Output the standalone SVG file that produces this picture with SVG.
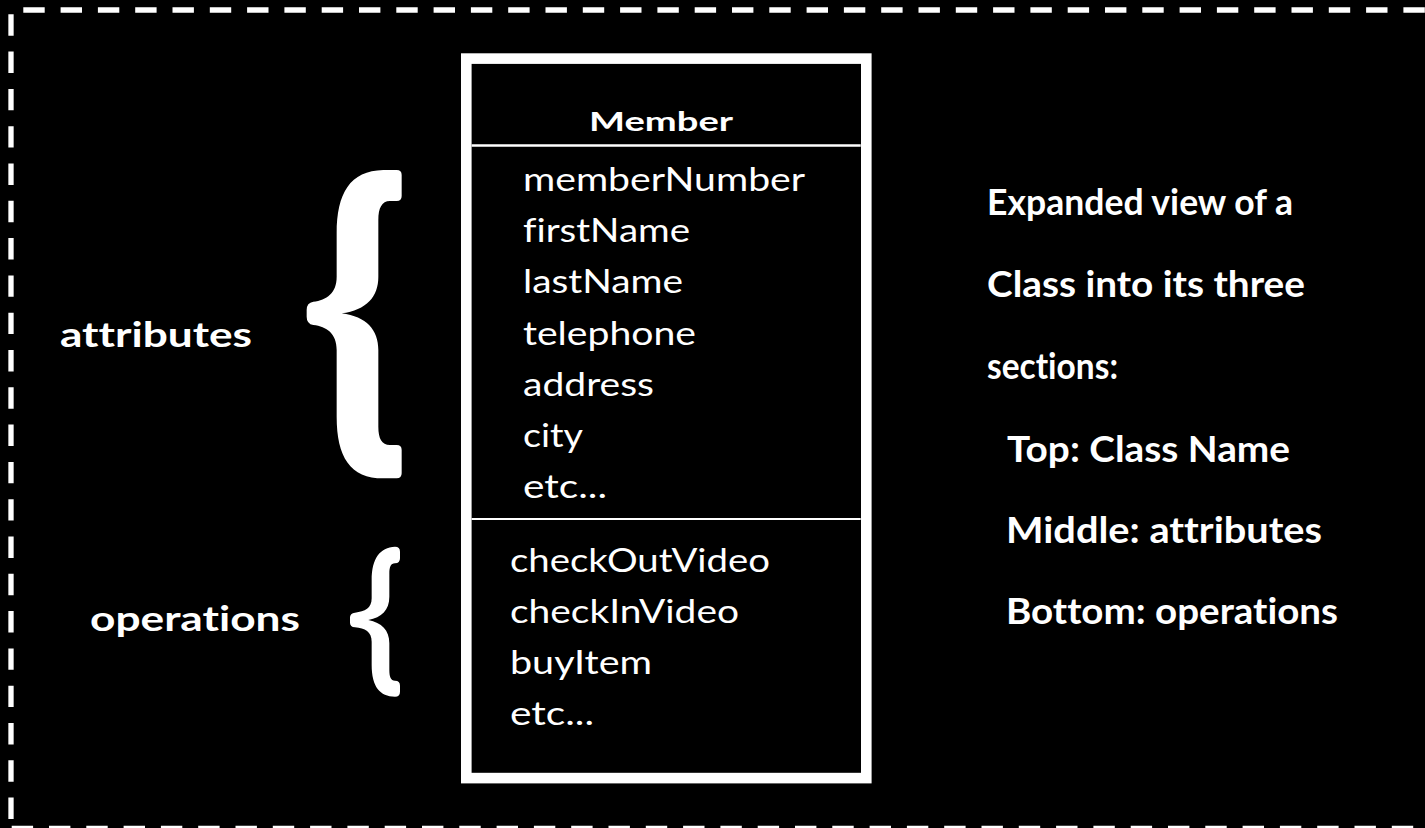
<svg xmlns="http://www.w3.org/2000/svg" width="1425" height="828" viewBox="0 0 1425 828">
  <style>
    .t { fill: #ffffff; font-family: Lato, "Liberation Sans", sans-serif; font-variant-ligatures: none; font-feature-settings: "liga" 0, "clig" 0; }
    .b { font-weight: 700; }
    .dash { stroke: #ffffff; stroke-width: 5.3; stroke-dasharray: 21.4 15.9; fill: none; }
    .brace { fill: #ffffff; }
  </style>
  <!-- background -->
  <rect x="0" y="0" width="1425" height="828" fill="#000000"/>

  <!-- dashed frame -->
  <g id="frame">
    <line class="dash" x1="23.3" y1="10" x2="1425" y2="10"/>
    <line class="dash" x1="11" y1="14.3" x2="11" y2="828"/>
    <line class="dash" x1="11.7" y1="828.3" x2="1425" y2="828.3"/>
  </g>

  <!-- class box: Member -->
  <g id="member-class">
    <rect x="466.3" y="58.6" width="400" height="719.5" fill="#000000" stroke="#ffffff" stroke-width="10.6"/>
    <line x1="471.6" y1="145.5" x2="860.7" y2="145.5" stroke="#ffffff" stroke-width="2.5"/>
    <line x1="471.6" y1="519" x2="860.7" y2="519" stroke="#ffffff" stroke-width="2.2"/>
    <text class="t b" x="589" y="131" font-size="26" textLength="144" lengthAdjust="spacingAndGlyphs">Member</text>
    <g id="member-attributes" font-size="32">
      <text class="t" x="523" y="191" textLength="282" lengthAdjust="spacingAndGlyphs">memberNumber</text>
      <text class="t" x="523" y="242" textLength="167" lengthAdjust="spacingAndGlyphs">firstName</text>
      <text class="t" x="523" y="293" textLength="160" lengthAdjust="spacingAndGlyphs">lastName</text>
      <text class="t" x="523" y="345" textLength="173" lengthAdjust="spacingAndGlyphs">telephone</text>
      <text class="t" x="523" y="396" textLength="131" lengthAdjust="spacingAndGlyphs">address</text>
      <text class="t" x="523" y="447" textLength="60" lengthAdjust="spacingAndGlyphs">city</text>
      <text class="t" x="523" y="498" textLength="84" lengthAdjust="spacingAndGlyphs">etc...</text>
    </g>
    <g id="member-operations" font-size="32">
      <text class="t" x="510" y="572" textLength="260" lengthAdjust="spacingAndGlyphs">checkOutVideo</text>
      <text class="t" x="510" y="623" textLength="229" lengthAdjust="spacingAndGlyphs">checkInVideo</text>
      <text class="t" x="510" y="674" textLength="142" lengthAdjust="spacingAndGlyphs">buyItem</text>
      <text class="t" x="510" y="725" textLength="84" lengthAdjust="spacingAndGlyphs">etc...</text>
    </g>
  </g>

  <!-- section labels -->
  <g id="label-attributes">
    <text class="t b" x="60" y="346.7" font-size="34" textLength="192" lengthAdjust="spacingAndGlyphs">attributes</text>
  </g>
  <g id="label-operations">
    <text class="t b" x="90" y="631" font-size="34" textLength="210" lengthAdjust="spacingAndGlyphs">operations</text>
  </g>

  <!-- braces tying labels to box sections -->
  <g id="connectors">
    <path class="brace" transform="translate(300,150) scale(0.33333)"
      d="M 110 250 C 110 130 150 62 250 60 L 290 60 Q 305 60 305 75 L 305 138 Q 305 153 290 153 L 270 153
         C 245 153 235 175 235 210 L 235 380 C 235 440 200 480 125 490 C 200 500 235 540 235 600 L 235 830
         C 235 865 245 885 270 885 L 290 885 Q 305 885 305 900 L 305 970 Q 305 985 290 985 L 250 985
         C 150 985 110 920 110 800 L 110 600 C 110 550 80 530 40 525 Q 20 522 20 500 L 20 480
         Q 20 458 40 455 C 80 450 110 430 110 380 Z"/>
    <path class="brace" transform="translate(340,530) scale(0.33333)"
      d="M 95 150 C 95 85 120 52 165 50 Q 180 50 180 65 L 180 85 Q 180 100 165 100
         C 152 100 148 112 148 130 L 148 200 C 148 240 125 262 85 270 C 125 278 148 300 148 340 L 148 420
         C 148 440 152 452 165 452 Q 180 452 180 467 L 180 485 Q 180 500 165 500
         C 120 500 95 470 95 405 L 95 335 C 95 305 75 295 45 292 Q 30 290 30 278 L 30 262
         Q 30 250 45 248 C 75 245 95 235 95 205 Z"/>
  </g>

  <!-- explanatory notes -->
  <g id="notes" font-size="36">
    <text class="t b" x="987" y="215" textLength="306" lengthAdjust="spacingAndGlyphs">Expanded view of a</text>
    <text class="t b" x="987" y="297" textLength="318" lengthAdjust="spacingAndGlyphs">Class into its three</text>
    <text class="t b" x="987" y="379" textLength="131" lengthAdjust="spacingAndGlyphs">sections:</text>
    <text class="t b" x="1007" y="461.5" textLength="283" lengthAdjust="spacingAndGlyphs">Top: Class Name</text>
    <text class="t b" x="1006" y="543.3" textLength="316" lengthAdjust="spacingAndGlyphs">Middle: attributes</text>
    <text class="t b" x="1006" y="623.5" textLength="332" lengthAdjust="spacingAndGlyphs">Bottom: operations</text>
  </g>
</svg>
